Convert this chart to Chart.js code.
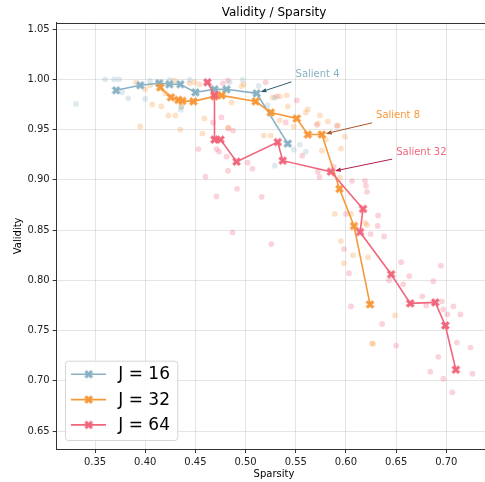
<!DOCTYPE html>
<html>
<head>
<meta charset="utf-8">
<script src="https://cdn.jsdelivr.net/npm/chart.js@4.4.1/dist/chart.umd.min.js"></script>
<style>
  html, body { margin: 0; padding: 0; background: #fff; overflow: hidden; }
  #box { width: 485px; height: 482px; }
</style>
</head>
<body>
<div id="box"><canvas id="chart"></canvas></div>
<script>
// series
const seriesNames = ['J = 16', 'J = 32', 'J = 64'];
const seriesColors = ['#88b2c4', '#f7983a', '#f0667c'];
const faintColors = ['rgba(136,178,196,0.28)', 'rgba(247,152,58,0.28)', 'rgba(240,102,124,0.28)'];

const j16X = [0.371, 0.395, 0.414, 0.424, 0.435, 0.450, 0.469, 0.481, 0.511, 0.542];
const j16Y = [0.989, 0.994, 0.996, 0.995, 0.995, 0.987, 0.990, 0.990, 0.986, 0.936];

const j32X = [0.415, 0.4255, 0.433, 0.437, 0.448, 0.469, 0.476, 0.510, 0.525, 0.551, 0.562, 0.576, 0.5935, 0.608, 0.624];
const j32Y = [0.992, 0.982, 0.9795, 0.9785, 0.978, 0.983, 0.984, 0.978, 0.967, 0.961, 0.945, 0.945, 0.891, 0.854, 0.776];

const j64X = [0.462, 0.469, 0.469, 0.475, 0.491, 0.532, 0.537, 0.585, 0.617, 0.614, 0.645, 0.664, 0.689, 0.699, 0.7095];
const j64Y = [0.997, 0.9845, 0.940, 0.940, 0.918, 0.9375, 0.919, 0.908, 0.871, 0.848, 0.806, 0.777, 0.778, 0.755, 0.711];

// faint background runs
const j16RunsX = [0.360, 0.369, 0.374, 0.331, 0.377, 0.383, 0.400, 0.4355, 0.436, 0.4126, 0.4245, 0.4444, 0.513, 0.522, 0.529, 0.548, 0.554, 0.560, 0.529, 0.497, 0.484, 0.4047];
const j16RunsY = [1.000, 1.000, 1.000, 0.9755, 0.987, 0.981, 0.9805, 0.9696, 0.9726, 0.9974, 0.9994, 0.9994, 0.9934, 0.974, 0.9815, 0.930, 0.935, 0.928, 0.914, 0.9994, 0.997, 0.9984];

const j32RunsX = [0.391, 0.400, 0.405, 0.407, 0.416, 0.423, 0.430, 0.395, 0.435, 0.429, 0.444, 0.449, 0.454, 0.459, 0.457, 0.436, 0.420,
  0.486, 0.496, 0.498, 0.527, 0.534, 0.541, 0.518, 0.525, 0.534, 0.560, 0.562, 0.572, 0.582, 0.592, 0.599, 0.595, 0.580, 0.548, 0.483,
  0.576, 0.589, 0.594, 0.605, 0.619, 0.621, 0.595, 0.598, 0.607, 0.622, 0.649, 0.626, 0.627, 0.542, 0.574];
const j32RunsY = [0.997, 0.990, 0.994, 0.975, 0.973, 0.964, 0.964, 0.953, 0.950, 0.999, 0.996, 0.997, 0.995, 0.961, 0.946, 0.973, 0.986,
  0.977, 0.993, 0.995, 0.982, 0.983, 0.984, 0.944, 0.944, 0.959, 0.967, 0.970, 0.956, 0.958, 0.954, 0.943, 0.931, 0.940, 0.953, 0.952,
  0.929, 0.866, 0.902, 0.866, 0.857, 0.855, 0.839, 0.817, 0.825, 0.823, 0.765, 0.737, 0.737, 0.973, 0.964];

const j64RunsX = [0.453, 0.460, 0.471, 0.4736, 0.461, 0.4775, 0.4825, 0.4676, 0.476, 0.4825, 0.4875, 0.520, 0.531, 0.540, 0.551,
  0.481, 0.4825, 0.502, 0.5068, 0.4915, 0.471, 0.516, 0.487, 0.5256, 0.572, 0.5737, 0.5876, 0.5565, 0.571, 0.591,
  0.606, 0.619, 0.620, 0.621, 0.600, 0.632, 0.6316, 0.6246, 0.638, 0.598, 0.603, 0.655, 0.663, 0.6946, 0.687, 0.643,
  0.657, 0.676, 0.680, 0.6956, 0.707, 0.605, 0.697, 0.701, 0.714, 0.636, 0.7105, 0.724, 0.692, 0.650, 0.684, 0.697, 0.706, 0.726];
const j64RunsY = [0.9305, 0.903, 0.9305, 0.928, 0.997, 0.996, 0.999, 0.957, 0.962, 0.951, 0.949, 0.997, 0.983, 0.957, 0.979,
  0.923, 0.909, 0.917, 0.911, 0.891, 0.8834, 0.883, 0.8476, 0.836, 0.908, 0.9027, 0.913, 0.924, 0.9547, 0.9537,
  0.899, 0.899, 0.894, 0.888, 0.866, 0.8645, 0.854, 0.846, 0.8436, 0.831, 0.807, 0.818, 0.804, 0.8145, 0.799, 0.800,
  0.796, 0.784, 0.775, 0.779, 0.774, 0.774, 0.771, 0.766, 0.766, 0.7566, 0.738, 0.733, 0.7238, 0.735, 0.709, 0.702, 0.6886, 0.707];

// annotations: label, series index, point index, text anchor (data coords)
const noteLabels = ['Salient 4', 'Salient 8', 'Salient 32'];
const noteSeries = [0, 1, 2];
const notePoint = [8, 11, 7];
const noteTextX = [0.5498, 0.630, 0.650];
const noteTextY = [1.0044, 0.9636, 0.9275];
const noteArrowColors = ['#2f5f73', '#a8552a', '#b0204a'];

const FONT = '"DejaVu Sans", "Liberation Sans", sans-serif';

function pts(xs, ys) {
  return xs.map((x, i) => ({ x: x, y: ys[i] }));
}

// filled "X" marker like matplotlib's 'X'
function makeX(color) {
  const c = document.createElement('canvas');
  c.width = 11; c.height = 11;
  const g = c.getContext('2d');
  const L = 4.3, w = 1.3;
  g.translate(5.5, 5.5);
  g.rotate(Math.PI / 4);
  g.beginPath();
  const p = [[-w,-L],[w,-L],[w,-w],[L,-w],[L,w],[w,w],[w,L],[-w,L],[-w,w],[-L,w],[-L,-w],[-w,-w]];
  p.forEach((q, i) => i ? g.lineTo(q[0], q[1]) : g.moveTo(q[0], q[1]));
  g.closePath();
  g.fillStyle = color;
  g.fill();
  g.lineWidth = 0.7;
  g.strokeStyle = color;
  g.stroke();
  return c;
}
const markers = seriesColors.map(makeX);

const lineX = [j16X, j32X, j64X];
const lineY = [j16Y, j32Y, j64Y];
const runsX = [j16RunsX, j32RunsX, j64RunsX];
const runsY = [j16RunsY, j32RunsY, j64RunsY];

const datasets = [];
// lines first so they sit on top; J=64 over J=32 over J=16
[2, 1, 0].forEach(i => {
  datasets.push({
    label: seriesNames[i],
    data: pts(lineX[i], lineY[i]),
    showLine: true,
    borderColor: seriesColors[i],
    borderWidth: 1.6,
    pointStyle: markers[i],
    pointRadius: 5,
    backgroundColor: seriesColors[i]
  });
});
[0, 1, 2].forEach(i => {
  datasets.push({
    label: seriesNames[i] + ' runs',
    data: pts(runsX[i], runsY[i]),
    showLine: false,
    pointRadius: 2.9,
    borderWidth: 0,
    backgroundColor: faintColors[i]
  });
});

// the axes run on past the right edge of the picture
const PLOT_RIGHT = 491.3;
const stretch = {
  id: 'stretch',
  afterLayout(chart) {
    const a = chart.chartArea, xs = chart.scales.x;
    a.right = PLOT_RIGHT;
    a.width = a.right - a.left;
    xs.right = PLOT_RIGHT;
    xs.width = xs.right - xs.left;
    xs.configure();
  }
};

const extras = {
  id: 'extras',
  afterDatasetsDraw(chart) {
    const ctx = chart.ctx, a = chart.chartArea;
    const xs = chart.scales.x, ys = chart.scales.y;
    ctx.save();
    // top spine
    ctx.strokeStyle = '#333';
    ctx.lineWidth = 1;
    ctx.beginPath();
    ctx.moveTo(a.left, Math.round(a.top) + 0.5);
    ctx.lineTo(a.right, Math.round(a.top) + 0.5);
    ctx.stroke();

    // title
    ctx.fillStyle = '#000';
    ctx.font = '12px ' + FONT;
    ctx.textAlign = 'center';
    ctx.textBaseline = 'middle';
    ctx.fillText('Validity / Sparsity', (a.left + a.right) / 2, 13);

    // annotations
    ctx.font = '10px ' + FONT;
    ctx.textAlign = 'left';
    noteLabels.forEach((lab, k) => {
      const s = noteSeries[k];
      const px = xs.getPixelForValue(lineX[s][notePoint[k]]);
      const py = ys.getPixelForValue(lineY[s][notePoint[k]]);
      const tx = xs.getPixelForValue(noteTextX[k]);
      const ty = ys.getPixelForValue(noteTextY[k]);
      ctx.fillStyle = seriesColors[s];
      ctx.fillText(lab, tx, ty);
      const sx = tx - 4, sy = ty + 7;
      const dx = px - sx, dy = py - sy, d = Math.hypot(dx, dy);
      const ux = dx / d, uy = dy / d;
      const hx = px - ux * 4, hy = py - uy * 4;
      const bx = hx - ux * 6, by = hy - uy * 6;
      ctx.strokeStyle = noteArrowColors[k];
      ctx.fillStyle = noteArrowColors[k];
      ctx.lineWidth = 1;
      ctx.beginPath();
      ctx.moveTo(sx, sy);
      ctx.lineTo(bx, by);
      ctx.stroke();
      ctx.beginPath();
      ctx.moveTo(hx, hy);
      ctx.lineTo(bx - uy * 2.2, by + ux * 2.2);
      ctx.lineTo(bx + uy * 2.2, by - ux * 2.2);
      ctx.closePath();
      ctx.fill();
    });

    // legend box
    const lx = 65, ly = 360.7, lw = 112.3, lh = 79.3;
    ctx.fillStyle = 'rgba(255,255,255,0.85)';
    ctx.strokeStyle = '#d6d6d6';
    ctx.lineWidth = 1;
    ctx.beginPath();
    ctx.roundRect(lx + 0.5, ly + 0.5, lw, lh, 3);
    ctx.fill();
    ctx.stroke();
    ctx.font = '17px ' + FONT;
    ctx.textBaseline = 'middle';
    seriesNames.forEach((name, i) => {
      const y = ly + 13.6 + i * 25.3;
      ctx.strokeStyle = seriesColors[i];
      ctx.lineWidth = 1.6;
      ctx.beginPath();
      ctx.moveTo(71, y);
      ctx.lineTo(106, y);
      ctx.stroke();
      ctx.drawImage(markers[i], 88.7 - 5.5, y - 5.5);
      ctx.fillStyle = '#000';
      ctx.fillText(name, 118.3, y + 0.5);
    });
    ctx.restore();
  }
};

new Chart(document.getElementById('chart'), {
  type: 'scatter',
  data: { datasets: datasets },
  options: {
    responsive: true,
    maintainAspectRatio: false,
    animation: false,
    devicePixelRatio: 1,
    layout: { padding: { top: 22.7, right: 0, bottom: 0, left: 0 } },
    plugins: { legend: { display: false }, title: { display: false }, tooltip: { enabled: false } },
    scales: {
      x: {
        type: 'linear',
        min: 0.3118,
        max: 0.7448,
        afterFit: s => { s.height = 33; s.paddingLeft = 0; s.paddingRight = 0; },
        border: { color: '#333', width: 1 },
        grid: { color: 'rgba(0,0,0,0.1)', tickColor: '#333', tickLength: 4, tickWidth: 1 },
        ticks: {
          stepSize: 0.05,
          includeBounds: false,
          color: '#222',
          padding: 3,
          font: { family: FONT, size: 10 },
          maxRotation: 0,
          callback: v => v.toFixed(2)
        },
        title: { display: true, text: 'Sparsity', color: '#000', font: { family: FONT, size: 10 }, padding: { top: 0, bottom: 2 } }
      },
      y: {
        type: 'linear',
        min: 0.6321,
        max: 1.0563,
        afterFit: s => { s.width = 56.7; s.paddingTop = 0; s.paddingBottom = 0; },
        border: { color: '#333', width: 1 },
        grid: { color: 'rgba(0,0,0,0.1)', tickColor: '#333', tickLength: 4, tickWidth: 1 },
        ticks: {
          stepSize: 0.05,
          includeBounds: false,
          color: '#222',
          padding: 3,
          font: { family: FONT, size: 10 },
          callback: v => v.toFixed(2)
        },
        title: { display: true, text: 'Validity', color: '#000', font: { family: FONT, size: 10 }, padding: { top: 12, bottom: 0 } }
      }
    }
  },
  plugins: [stretch, extras]
});
</script>
</body>
</html>
